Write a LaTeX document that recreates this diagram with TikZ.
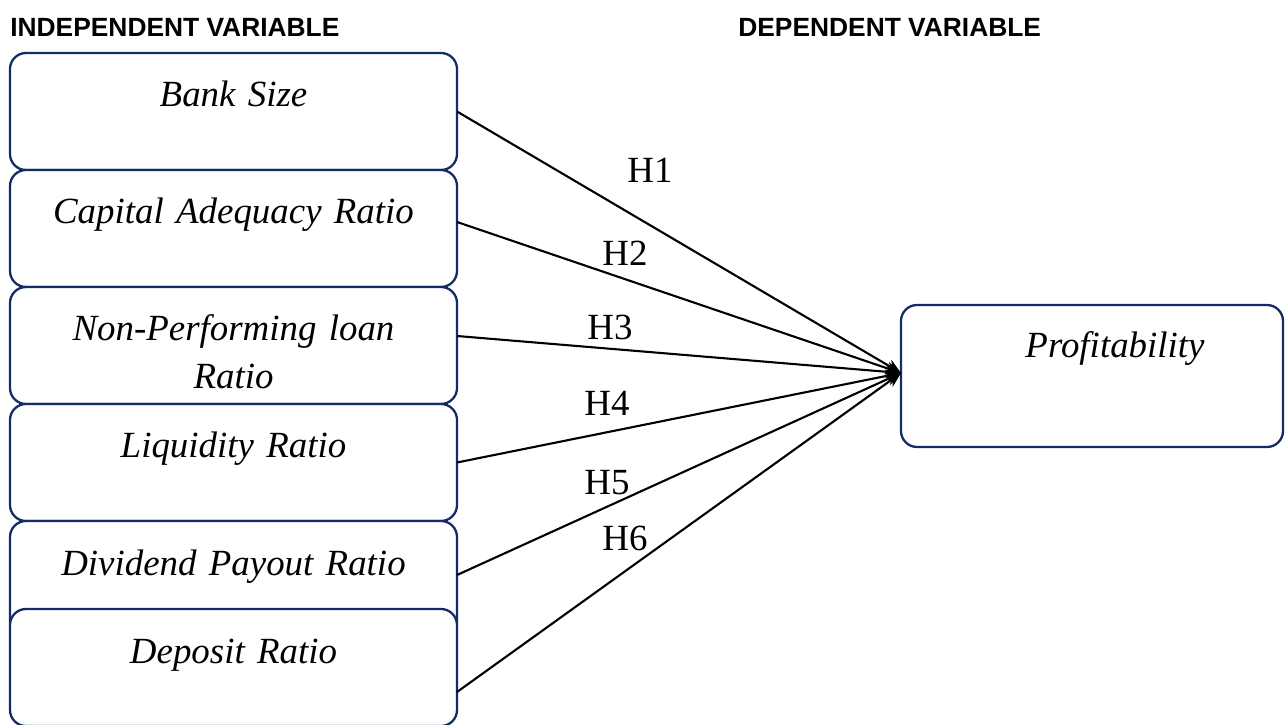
\documentclass[tikz,border=0pt]{standalone}
\usepackage{fontspec}
\setmainfont{Liberation Serif}
\setsansfont{Liberation Sans}
\usepackage{tikz}
\usetikzlibrary{positioning, arrows, arrows.meta}
\definecolor{boxblue}{RGB}{20,44,102}
\tikzset{node distance=0pt, % Boxes are stacked edge to edge
varbox/.style={ % Sets the properties for each variable box
draw=boxblue, line width=1.3pt, fill=white,
rounded corners=0.32cm, inner sep=0pt, outer sep=0pt,
text width=8.94cm, align=center,
text height=1.08cm, text depth=1.26cm,
font=\fontsize{21}{27}\selectfont\itshape},
heading/.style={font=\sffamily\bfseries\fontsize{15}{18}\selectfont, inner sep=0pt},
hyp/.style={font=\fontsize{21}{25}\selectfont, inner sep=0pt},
every edge/.style={ % Sets the properties for each hypothesis arrow
draw,->,>={Stealth[length=0.3cm,width=0.26cm]}, line width=1.2pt}}

\begin{document}
\begin{tikzpicture}
    \useasboundingbox (0,0) rectangle (25.72,-14.5);

    \node[heading, anchor=base west] (indep) at (0.2,-0.74) {INDEPENDENT VARIABLE};
    \node[heading, anchor=base west] (dep) at (14.76,-0.74) {DEPENDENT VARIABLE};

    \node[varbox, anchor=north west] (size) at (0.2,-1.06) {Bank Size};
    \node[varbox, below=of size] (car) {Capital Adequacy Ratio};
    \node[varbox, below=of car] (npl) {Non-Performing loan\\Ratio};
    \node[varbox, below=of npl] (liq) {Liquidity Ratio};
    \node[varbox, below=of liq] (dpr) {Dividend Payout Ratio};
    \node[varbox, below=-0.58cm of dpr] (dep6) {Deposit Ratio};

    \node[varbox, anchor=north west, text width=7.64cm, text height=1.06cm, text depth=1.78cm]
        (prof) at (18.02,-6.1) {\hspace*{0.92cm}Profitability};
    \coordinate (tip) at ([yshift=0.06cm]prof.west);

    \draw (size.east) edge (tip);
    \draw ([yshift=0.13cm]car.east) edge (tip);
    \draw ([yshift=0.19cm]npl.east) edge (tip);
    \draw (liq.east) edge (tip);
    \draw ([yshift=0.09cm]dpr.east) edge (tip);
    \draw ([yshift=-0.49cm]dep6.east) edge (tip);

    \node[hyp] (h1) at (13.0,-3.40) {H1};
    \node[hyp] (h2) at (12.5,-5.06) {H2};
    \node[hyp] (h3) at (12.2,-6.54) {H3};
    \node[hyp] (h4) at (12.14,-8.06) {H4};
    \node[hyp] (h5) at (12.14,-9.66) {H5};
    \node[hyp] (h6) at (12.5,-10.76) {H6};

\end{tikzpicture}
\end{document}
